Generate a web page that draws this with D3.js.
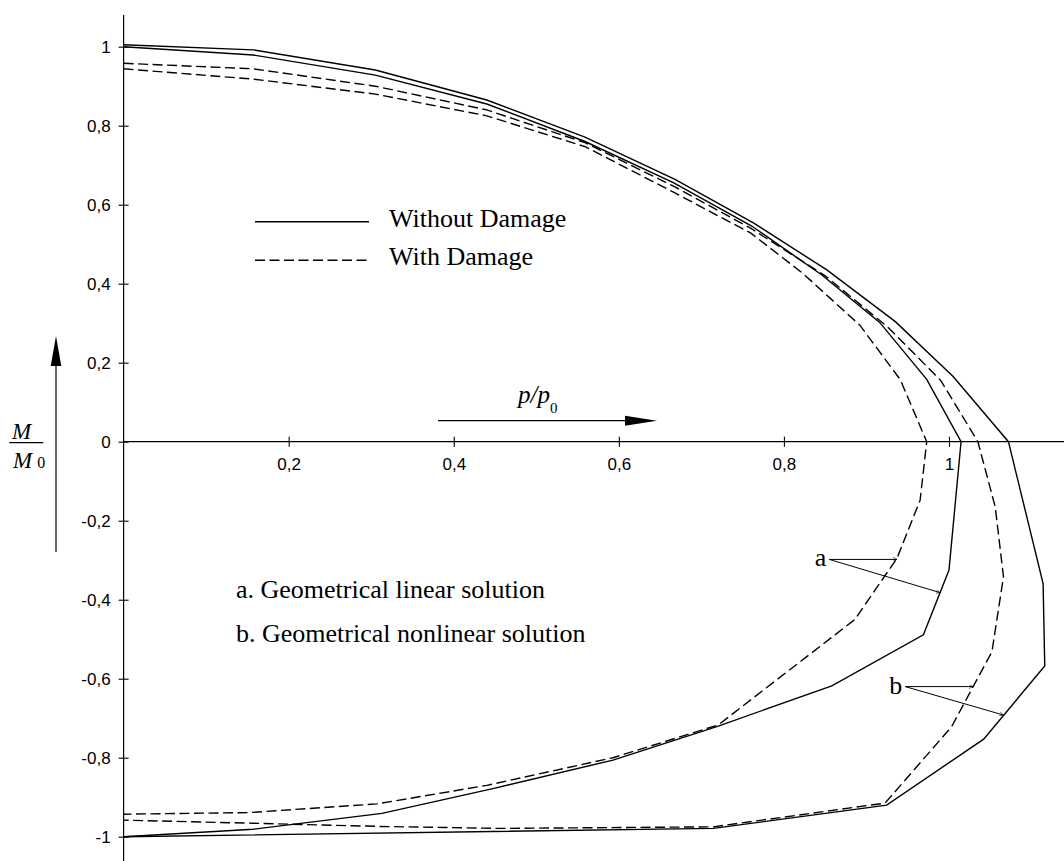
<!DOCTYPE html>
<html>
<head>
<meta charset="utf-8">
<script src="https://cdn.jsdelivr.net/npm/d3@7"></script>
<style>
  html, body { margin: 0; padding: 0; background: #fff; }
  svg { display: block; }
</style>
</head>
<body>
<svg id="chart" width="1064" height="861"></svg>
<script>
// Interaction curves M/M0 versus p/p0, traced from the top (p = 0) down around to the bottom (p = 0)

// Geometrical linear solution, without damage
const linNoDmgP = [0, 0.157, 0.305, 0.44, 0.559, 0.666, 0.761, 0.846, 0.916, 0.973, 1.0146, 1.0, 0.969, 0.858, 0.7205, 0.593, 0.45, 0.313, 0.157, 0];
const linNoDmgM = [1.0, 0.979, 0.928, 0.855, 0.76, 0.656, 0.546, 0.422, 0.302, 0.158, 0, -0.325, -0.489, -0.618, -0.72, -0.806, -0.877, -0.941, -0.981, -1.0];

// Geometrical nonlinear solution, without damage
const nlNoDmgP = [0, 0.157, 0.305, 0.44, 0.559, 0.668, 0.763, 0.852, 0.935, 1.005, 1.072, 1.114, 1.116, 1.042, 0.9245, 0.7145, 0];
const nlNoDmgM = [1.005, 0.992, 0.941, 0.865, 0.771, 0.664, 0.554, 0.435, 0.304, 0.165, 0, -0.359, -0.568, -0.753, -0.92, -0.979, -1.0];

// Geometrical linear solution, with damage
const linDmgP = [0, 0.157, 0.305, 0.44, 0.559, 0.665, 0.76, 0.823, 0.892, 0.941, 0.973, 0.965, 0.937, 0.886, 0.7205, 0.593, 0.44, 0.307, 0.151, 0];
const linDmgM = [0.944, 0.918, 0.88, 0.825, 0.747, 0.633, 0.528, 0.426, 0.295, 0.157, 0, -0.148, -0.295, -0.45, -0.717, -0.8, -0.87, -0.917, -0.939, -0.943];

// Geometrical nonlinear solution, with damage
const nlDmgP = [0, 0.157, 0.305, 0.44, 0.559, 0.668, 0.76, 0.85, 0.926, 0.99, 1.035, 1.056, 1.066, 1.052, 1.003, 0.9225, 0.7145, 0.456, 0.31, 0.157, 0];
const nlDmgM = [0.958, 0.944, 0.9, 0.84, 0.757, 0.645, 0.54, 0.42, 0.29, 0.155, 0, -0.165, -0.342, -0.532, -0.722, -0.915, -0.975, -0.979, -0.974, -0.966, -0.958];

// Axis ticks and their labels (decimal comma)
const xTicks = [0.2, 0.4, 0.6, 0.8, 1];
const xTickLabels = ["0,2", "0,4", "0,6", "0,8", "1"];
const yTicks = [1, 0.8, 0.6, 0.4, 0.2, 0, -0.2, -0.4, -0.6, -0.8, -1];
const yTickLabels = ["1", "0,8", "0,6", "0,4", "0,2", "0", "-0,2", "-0,4", "-0,6", "-0,8", "-1"];

// Pointer labels: label, origin [p, M], then the two curve points it points to
const pointerNames = ["a", "b"];
const pointerOrigins = [[0.855, -0.298], [0.947, -0.62]];
const pointerTargets = [
  [[0.937, -0.298], [0.989, -0.382]],
  [[1.029, -0.62], [1.066, -0.692]]
];

const legendNames = ["Without Damage", "With Damage"];
const solutionNotes = ["a. Geometrical linear solution", "b. Geometrical nonlinear solution"];

const svg = d3.select("#chart");
const W = 1064, H = 861;

const x = d3.scaleLinear().domain([0, 1]).range([123.6, 949]);
const y = d3.scaleLinear().domain([-1, 1]).range([836.7, 46.7]);

const ink = "#000";
const dash = "10,4.5";

// arrow markers
const defs = svg.append("defs");
defs.append("marker")
  .attr("id", "tiny")
  .attr("viewBox", "0 0 10 10")
  .attr("refX", 10).attr("refY", 5)
  .attr("markerWidth", 7).attr("markerHeight", 4)
  .attr("markerUnits", "userSpaceOnUse")
  .attr("orient", "auto")
  .append("path").attr("d", "M0,0 L10,5 L0,10").attr("fill", "none").attr("stroke", ink).attr("stroke-width", 1.5);

// axes lines
svg.append("line")
  .attr("x1", x(0)).attr("x2", x(0)).attr("y1", 15).attr("y2", H)
  .attr("stroke", ink).attr("stroke-width", 1.2);
svg.append("line")
  .attr("x1", x(0)).attr("x2", W).attr("y1", y(0)).attr("y2", y(0))
  .attr("stroke", ink).attr("stroke-width", 1.2);

// y axis ticks
const yAxis = d3.axisLeft(y)
  .tickValues(yTicks)
  .tickFormat((d, i) => yTickLabels[i])
  .tickSize(5).tickPadding(8);
const gy = svg.append("g").attr("transform", `translate(${x(0)},0)`).call(yAxis);
gy.select(".domain").remove();
gy.selectAll(".tick line").attr("x1", -5).attr("x2", 5).attr("stroke", ink).attr("stroke-width", 1.1);
gy.selectAll(".tick text")
  .attr("font-family", "Liberation Sans, Arial, sans-serif")
  .attr("font-size", 17).attr("fill", ink).attr("x", -13);

// x axis ticks
const xAxis = d3.axisBottom(x)
  .tickValues(xTicks)
  .tickFormat((d, i) => xTickLabels[i])
  .tickSize(5).tickPadding(8);
const gx = svg.append("g").attr("transform", `translate(0,${y(0)})`).call(xAxis);
gx.select(".domain").remove();
gx.selectAll(".tick line").attr("y1", -5).attr("y2", 5).attr("stroke", ink).attr("stroke-width", 1.1);
gx.selectAll(".tick text")
  .attr("font-family", "Liberation Sans, Arial, sans-serif")
  .attr("font-size", 17).attr("fill", ink).attr("y", 16);

// curves
const line = d3.line().x(d => x(d[0])).y(d => y(d[1]));
const curves = [
  { p: linNoDmgP, m: linNoDmgM, dashed: false },
  { p: nlNoDmgP, m: nlNoDmgM, dashed: false },
  { p: linDmgP, m: linDmgM, dashed: true },
  { p: nlDmgP, m: nlDmgM, dashed: true }
];
curves.forEach(c => {
  svg.append("path")
    .datum(c.p.map((v, i) => [v, c.m[i]]))
    .attr("d", line)
    .attr("fill", "none")
    .attr("stroke", ink)
    .attr("stroke-width", 1.4)
    .attr("stroke-linejoin", "miter")
    .attr("stroke-dasharray", c.dashed ? dash : null);
});

// legend
const serif = "Liberation Serif, Times New Roman, serif";
legendNames.forEach((name, i) => {
  const ly = 221.7 + i * 38.5;
  svg.append("line")
    .attr("x1", 255).attr("x2", 369).attr("y1", ly).attr("y2", ly)
    .attr("stroke", ink).attr("stroke-width", 1.4)
    .attr("stroke-dasharray", i === 1 ? dash : null);
  svg.append("text")
    .attr("x", 389).attr("y", ly + 5)
    .attr("font-family", serif).attr("font-size", 26).attr("fill", ink)
    .text(name);
});

// solution notes
solutionNotes.forEach((t, i) => {
  svg.append("text")
    .attr("x", 236).attr("y", 598.3 + i * 43.4)
    .attr("font-family", serif).attr("font-size", 26).attr("fill", ink)
    .text(t);
});

// pointers a / b
pointerNames.forEach((name, i) => {
  const o = pointerOrigins[i];
  svg.append("text")
    .attr("x", x(o[0]) - 3).attr("y", y(o[1]) + 7)
    .attr("text-anchor", "end")
    .attr("font-family", serif).attr("font-size", 26).attr("fill", ink)
    .text(name);
  pointerTargets[i].forEach(t => {
    svg.append("line")
      .attr("x1", x(o[0])).attr("y1", y(o[1]))
      .attr("x2", x(t[0])).attr("y2", y(t[1]))
      .attr("stroke", ink).attr("stroke-width", 1)
      .attr("marker-end", "url(#tiny)");
  });
});

// p/p0 direction arrow
svg.append("line")
  .attr("x1", 438).attr("x2", 630).attr("y1", 420.7).attr("y2", 420.7)
  .attr("stroke", ink).attr("stroke-width", 1.2);
svg.append("path")
  .attr("d", "M625,415.7 L657,420.7 L625,425.7 Z")
  .attr("fill", ink);
const pLabel = svg.append("text")
  .attr("x", 518).attr("y", 403)
  .attr("font-family", serif).attr("font-size", 25).attr("fill", ink);
pLabel.append("tspan").attr("font-style", "italic").text("p/p");
pLabel.append("tspan").attr("font-size", 15).attr("dy", 10).text("0");

// M/M0 direction arrow
svg.append("line")
  .attr("x1", 56).attr("x2", 56).attr("y1", 552).attr("y2", 360)
  .attr("stroke", ink).attr("stroke-width", 1.2);
svg.append("path")
  .attr("d", "M50.7,366 L56,336 L61.3,366 Z")
  .attr("fill", ink);

// M/M0 fraction
svg.append("text")
  .attr("x", 12).attr("y", 439)
  .attr("font-family", serif).attr("font-size", 23).attr("font-style", "italic").attr("fill", ink)
  .text("M");
svg.append("line")
  .attr("x1", 9.3).attr("x2", 43.3).attr("y1", 442.7).attr("y2", 442.7)
  .attr("stroke", ink).attr("stroke-width", 1.2);
const mLow = svg.append("text")
  .attr("x", 13).attr("y", 468.3)
  .attr("font-family", serif).attr("font-size", 23).attr("fill", ink);
mLow.append("tspan").attr("font-style", "italic").text("M");
mLow.append("tspan").attr("font-size", 16).attr("dx", 5).text("0");
</script>
</body>
</html>
